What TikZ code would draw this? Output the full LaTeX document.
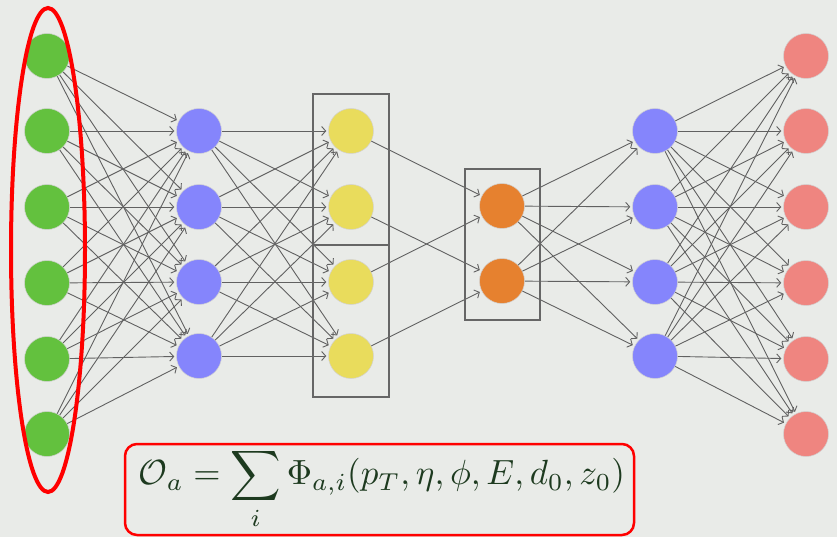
\documentclass[tikz,border=0pt]{standalone}
\usepackage{amsmath}
\usetikzlibrary{arrows.meta}
\definecolor{bgcol}{HTML}{E9EBE8}
\definecolor{ingreen}{HTML}{63C13E}
\definecolor{hidblue}{HTML}{8585FC}
\definecolor{latyellow}{HTML}{E9DC5C}
\definecolor{codeorange}{HTML}{E6812F}
\definecolor{outred}{HTML}{EF8580}
\definecolor{eqgreen}{HTML}{1D3A1F}
\tikzset{
  neuron/.style={circle,minimum size=45pt,inner sep=0pt,fill=#1,draw=gray!35,line width=.5pt},
  conn/.style={draw=black!62,line width=.9pt,-{Straight Barb[length=4pt,width=9pt]},shorten >=2pt},
  groupbox/.style={draw=black!60,line width=2.2pt}
}
\begin{document}
\begin{tikzpicture}[x=1pt,y=-1pt]
\fill[bgcol](0,0)rectangle(837,537);
\useasboundingbox(0,0)rectangle(837,537);
%layers
\foreach \i/\y in {1/56,2/131,3/207,4/283,5/359,6/434}{
  \node[neuron=ingreen](g\i)at(47,\y){};
  \node[neuron=outred](r\i)at(806,\y){};
}
\foreach \i/\y in {1/131,2/207,3/282,4/356}{
  \node[neuron=hidblue](b\i)at(199,\y){};
  \node[neuron=latyellow](y\i)at(351,\y){};
  \node[neuron=hidblue](d\i)at(655,\y){};
}
\node[neuron=codeorange](o1)at(502,206){};
\node[neuron=codeorange](o2)at(502,281){};
%connections
\foreach \i in {1,...,6}\foreach \j in {1,...,4}{
  \draw[conn](g\i)--(b\j);
  \draw[conn](d\j)--(r\i);
}
\foreach \i in {1,...,4}\foreach \j in {1,...,4}\draw[conn](b\i)--(y\j);
\foreach \i/\j in {1/1,2/2,3/1,4/2}\draw[conn](y\i)--(o\j);
\foreach \i in {1,2}\foreach \j in {1,...,4}\draw[conn](o\i)--(d\j);
%boxes
\draw[groupbox](313,94)rectangle(389,245);
\draw[groupbox](313,245)rectangle(389,397);
\draw[groupbox](465,169)rectangle(540,320);
\draw[red,line width=4pt](48,250)ellipse(37 and 242);
%formula
\node[text=eqgreen,inner sep=0pt,scale=3.5](eq)at(382,489)
  {$\displaystyle\mathcal{O}_a=\sum_i\Phi_{a,i}(p_T,\eta,\phi,E,d_0,z_0)$};
\draw[red,line width=2.5pt,rounded corners=12pt](125,444)rectangle(634,535);
\end{tikzpicture}
\end{document}
